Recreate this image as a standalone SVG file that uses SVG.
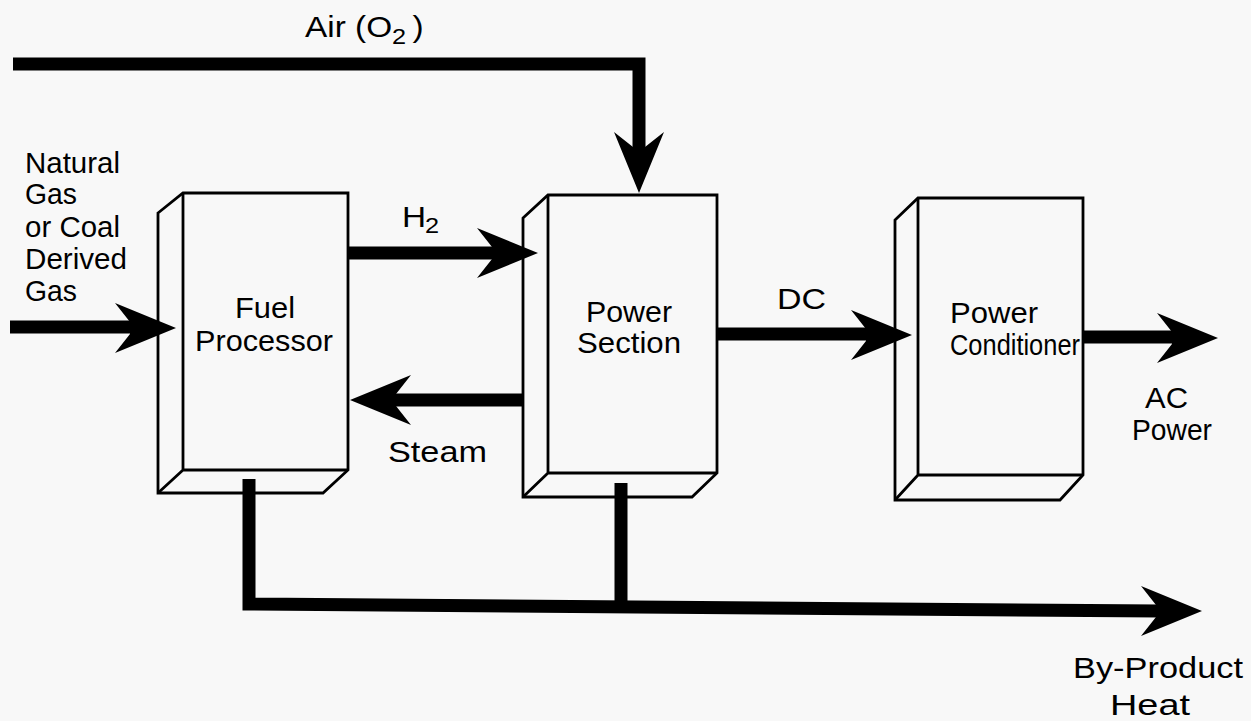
<svg xmlns="http://www.w3.org/2000/svg" width="1251" height="721" viewBox="0 0 1251 721">
<style>
.box{fill:none;stroke:#000;stroke-width:2.8;stroke-linejoin:miter}
.shaft{fill:none;stroke:#000;stroke-width:13;stroke-linejoin:miter;stroke-linecap:butt}
.ah{fill:#000;stroke:none}
text{font-family:"Liberation Sans",Arial,sans-serif;font-size:29px;fill:#000}
.sub{font-size:22px}
</style>
<defs>
<path id="head" d="M0,0 L-61,-25 L-46,-6 L-46,6 L-61,25 Z"/>
</defs>
<rect width="1251" height="721" fill="#f8f8f8"/>

<g id="fuel-processor">
<path class="box" d="M158,213 L183,193 H348 V470 L323,493 H158 Z"/>
<path class="box" d="M183,193 V470 H348 M183,470 L158,493"/>
<text x="235" y="318" textLength="60" lengthAdjust="spacingAndGlyphs">Fuel</text>
<text x="195" y="351" textLength="138" lengthAdjust="spacingAndGlyphs">Processor</text>
</g>

<g id="power-section">
<path class="box" d="M523,218 L548,195 H717 V473 L692,497 H523 Z"/>
<path class="box" d="M548,195 V473 H717 M548,473 L523,497"/>
<text x="586" y="322" textLength="86" lengthAdjust="spacingAndGlyphs">Power</text>
<text x="577" y="353" textLength="104" lengthAdjust="spacingAndGlyphs">Section</text>
</g>

<g id="power-conditioner">
<path class="box" d="M895,220 L918,198 H1083 V475 L1060,500 H895 Z"/>
<path class="box" d="M918,198 V475 H1083 M918,475 L895,500"/>
<text x="950" y="323" textLength="88" lengthAdjust="spacingAndGlyphs">Power</text>
<text x="950" y="355" textLength="130" lengthAdjust="spacingAndGlyphs">Conditioner</text>
</g>

<g id="connectors">
<!-- Air -->
<path class="shaft" d="M13,64 H639 V150"/>
<use href="#head" class="ah" transform="translate(639,193) rotate(90)"/>
<!-- Fuel input -->
<path class="shaft" d="M10,327 H135"/>
<use href="#head" class="ah" transform="translate(176,328)"/>
<!-- H2 -->
<path class="shaft" d="M348,253 H495"/>
<use href="#head" class="ah" transform="translate(538,253)"/>
<!-- Steam -->
<path class="shaft" d="M523,400 H395"/>
<use href="#head" class="ah" transform="translate(350,400) rotate(180)"/>
<!-- DC -->
<path class="shaft" d="M717,334 H870"/>
<use href="#head" class="ah" transform="translate(912,335)"/>
<!-- AC -->
<path class="shaft" d="M1083,337 H1175"/>
<use href="#head" class="ah" transform="translate(1218,338)"/>
<!-- By-product heat -->
<path class="shaft" d="M249,479 V604 L1160,611"/>
<path class="shaft" d="M621,483 V606"/>
<use href="#head" class="ah" transform="translate(1202,611)"/>
</g>

<g id="labels">
<text transform="translate(305,37) scale(1.15,1)">Air (O<tspan class="sub" x="75.7" y="7">2</tspan><tspan x="93.5" y="0">)</tspan></text>
<text x="25" y="173" textLength="95" lengthAdjust="spacingAndGlyphs">Natural</text>
<text x="25" y="204" textLength="52" lengthAdjust="spacingAndGlyphs">Gas</text>
<text x="25" y="237" textLength="95" lengthAdjust="spacingAndGlyphs">or Coal</text>
<text x="25" y="269" textLength="102" lengthAdjust="spacingAndGlyphs">Derived</text>
<text x="25" y="301" textLength="52" lengthAdjust="spacingAndGlyphs">Gas</text>
<text transform="translate(402,227) scale(1.15,1)">H<tspan class="sub" x="20" y="6">2</tspan></text>
<text x="388" y="462" textLength="99" lengthAdjust="spacingAndGlyphs">Steam</text>
<text x="777" y="309" textLength="49" lengthAdjust="spacingAndGlyphs">DC</text>
<text x="1145" y="408" textLength="43" lengthAdjust="spacingAndGlyphs">AC</text>
<text x="1132" y="440" textLength="80" lengthAdjust="spacingAndGlyphs">Power</text>
<text x="1073" y="678" textLength="170" lengthAdjust="spacingAndGlyphs">By-Product</text>
<text x="1110" y="715" textLength="80" lengthAdjust="spacingAndGlyphs">Heat</text>
</g>
</svg>
